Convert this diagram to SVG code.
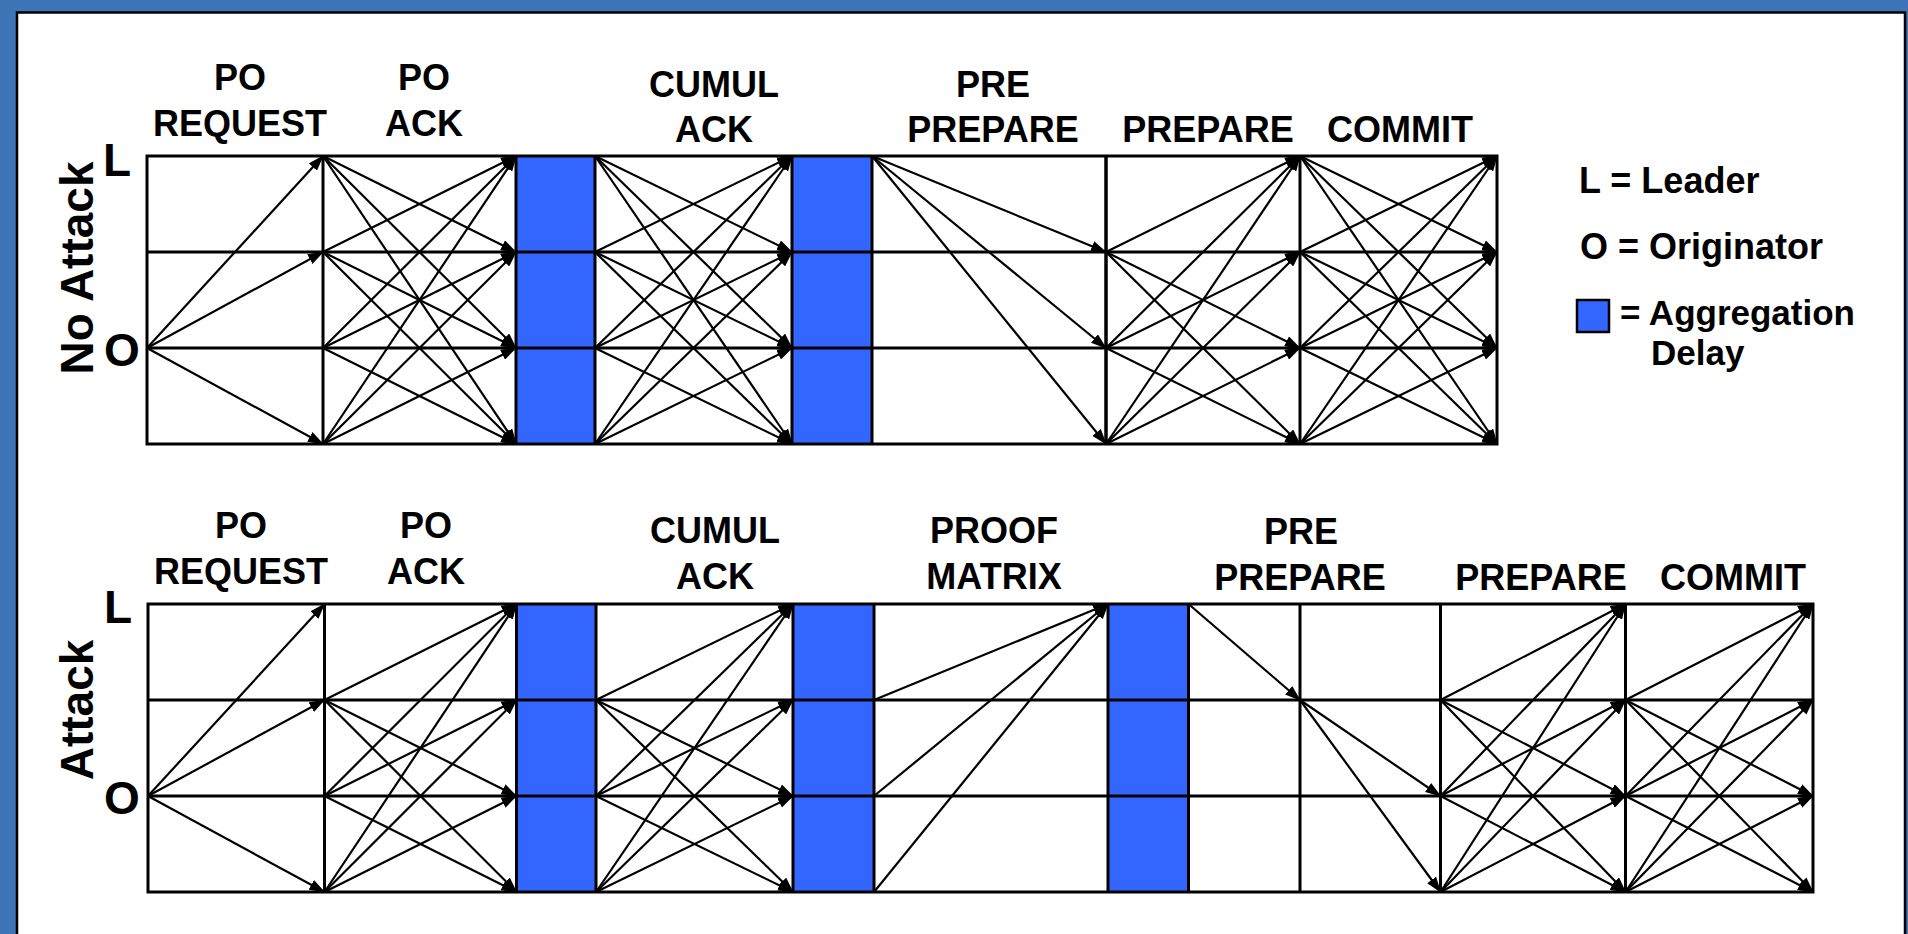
<svg xmlns="http://www.w3.org/2000/svg" width="1908" height="934" viewBox="0 0 1908 934">
<defs>
<style>
.t{font-family:"Liberation Sans",Arial,sans-serif;font-weight:bold;font-size:36px;fill:#000}
.h{text-anchor:middle}
.lg{font-size:35px}
.rl{font-family:"Liberation Sans",Arial,sans-serif;font-weight:bold;font-size:46px;fill:#000}
.g{stroke:#000;stroke-width:3;fill:none}
.bar{fill:#3366FF;stroke:none}
.a line{stroke:#000;stroke-width:2.2;marker-end:url(#ah)}
</style>
<marker id="ah" markerUnits="userSpaceOnUse" markerWidth="16" markerHeight="11" viewBox="0 0 16 11" refX="15" refY="5.5" orient="auto">
<path d="M0,0 L16,5.5 L0,11 z" fill="#000"/>
</marker>
</defs>
<rect x="0" y="0" width="1908" height="934" fill="#3D75B7"/>
<rect x="17" y="12.5" width="1888" height="940" fill="#fff" stroke="#000" stroke-width="2.5"/>

<!-- Top panel: No Attack -->
<g id="top-panel">
<g id="top-bars">
<rect class="bar" x="516" y="156" width="79" height="288"/>
<rect class="bar" x="792" y="156" width="80" height="288"/>
</g>
<g id="top-grid" class="g">
<rect x="147" y="156" width="1350" height="288"/>
<line x1="147" y1="252" x2="1497" y2="252"/>
<line x1="147" y1="348" x2="1497" y2="348"/>
<line x1="323" y1="156" x2="323" y2="444"/>
<line x1="516" y1="156" x2="516" y2="444"/>
<line x1="595" y1="156" x2="595" y2="444"/>
<line x1="792" y1="156" x2="792" y2="444"/>
<line x1="872" y1="156" x2="872" y2="444"/>
<line x1="1106" y1="156" x2="1106" y2="444" stroke-width="3.5"/>
<line x1="1300" y1="156" x2="1300" y2="444"/>
</g>
<g id="top-labels">
<text class="rl" transform="translate(93,268) rotate(-90)" text-anchor="middle">No Attack</text>
<text class="rl" x="103" y="176">L</text>
<text class="rl" x="104" y="366">O</text>
<text class="t h" x="240" y="90">PO</text>
<text class="t h" x="240" y="136">REQUEST</text>
<text class="t h" x="424" y="90">PO</text>
<text class="t h" x="424" y="136">ACK</text>
<text class="t h" x="714" y="97">CUMUL</text>
<text class="t h" x="714" y="142">ACK</text>
<text class="t h" x="993" y="97">PRE</text>
<text class="t h" x="993" y="142">PREPARE</text>
<text class="t h" x="1208" y="142">PREPARE</text>
<text class="t h" x="1400" y="142">COMMIT</text>
</g>
</g>

<!-- Bottom panel: Attack -->
<g id="bottom-panel">
<g id="bottom-bars">
<rect class="bar" x="516.5" y="604" width="79.5" height="288"/>
<rect class="bar" x="793" y="604" width="81" height="288"/>
<rect class="bar" x="1108" y="604" width="80.5" height="288"/>
</g>
<g id="bottom-grid" class="g">
<rect x="148" y="604" width="1665" height="288"/>
<line x1="148" y1="700" x2="1813" y2="700"/>
<line x1="148" y1="796" x2="1813" y2="796"/>
<line x1="324.5" y1="604" x2="324.5" y2="892"/>
<line x1="516.5" y1="604" x2="516.5" y2="892"/>
<line x1="596" y1="604" x2="596" y2="892"/>
<line x1="793" y1="604" x2="793" y2="892"/>
<line x1="874" y1="604" x2="874" y2="892"/>
<line x1="1108" y1="604" x2="1108" y2="892"/>
<line x1="1188.5" y1="604" x2="1188.5" y2="892"/>
<line x1="1300" y1="604" x2="1300" y2="892"/>
<line x1="1440.5" y1="604" x2="1440.5" y2="892"/>
<line x1="1625.5" y1="604" x2="1625.5" y2="892"/>
</g>
<g id="bottom-labels">
<text class="rl" transform="translate(93,710) rotate(-90)" text-anchor="middle">Attack</text>
<text class="rl" x="104" y="623">L</text>
<text class="rl" x="104" y="814">O</text>
<text class="t h" x="241" y="538">PO</text>
<text class="t h" x="241" y="584">REQUEST</text>
<text class="t h" x="426" y="538">PO</text>
<text class="t h" x="426" y="584">ACK</text>
<text class="t h" x="715" y="543">CUMUL</text>
<text class="t h" x="715" y="589">ACK</text>
<text class="t h" x="994" y="543">PROOF</text>
<text class="t h" x="994" y="589">MATRIX</text>
<text class="t h" x="1301" y="544">PRE</text>
<text class="t h" x="1300" y="590">PREPARE</text>
<text class="t h" x="1541" y="590">PREPARE</text>
<text class="t h" x="1733" y="590">COMMIT</text>
</g>
</g>

<!-- Legend -->
<g id="legend">
<text class="t" x="1579" y="193">L = Leader</text>
<text class="t" x="1580" y="259">O = Originator</text>
<rect x="1577" y="300" width="32" height="32" fill="#3366FF" stroke="#000" stroke-width="2.5"/>
<text class="t lg" x="1620" y="325">= Aggregation</text>
<text class="t lg" x="1651" y="365">Delay</text>
</g>

<!-- Connectors -->
<g id="connectors" class="a">
<!-- top: PO REQUEST -->
<line x1="147" y1="348" x2="323" y2="156"/>
<line x1="147" y1="348" x2="323" y2="252"/>
<line x1="147" y1="348" x2="323" y2="444"/>
<!-- top: PO ACK -->
<line x1="323" y1="156" x2="516" y2="252"/>
<line x1="323" y1="156" x2="516" y2="348"/>
<line x1="323" y1="156" x2="516" y2="444"/>
<line x1="323" y1="252" x2="516" y2="156"/>
<line x1="323" y1="252" x2="516" y2="348"/>
<line x1="323" y1="252" x2="516" y2="444"/>
<line x1="323" y1="348" x2="516" y2="156"/>
<line x1="323" y1="348" x2="516" y2="252"/>
<line x1="323" y1="348" x2="516" y2="444"/>
<line x1="323" y1="444" x2="516" y2="156"/>
<line x1="323" y1="444" x2="516" y2="252"/>
<line x1="323" y1="444" x2="516" y2="348"/>
<!-- top: CUMUL ACK -->
<line x1="595" y1="156" x2="792" y2="252"/>
<line x1="595" y1="156" x2="792" y2="348"/>
<line x1="595" y1="156" x2="792" y2="444"/>
<line x1="595" y1="252" x2="792" y2="156"/>
<line x1="595" y1="252" x2="792" y2="348"/>
<line x1="595" y1="252" x2="792" y2="444"/>
<line x1="595" y1="348" x2="792" y2="156"/>
<line x1="595" y1="348" x2="792" y2="252"/>
<line x1="595" y1="348" x2="792" y2="444"/>
<line x1="595" y1="444" x2="792" y2="156"/>
<line x1="595" y1="444" x2="792" y2="252"/>
<line x1="595" y1="444" x2="792" y2="348"/>
<!-- top: PRE PREPARE -->
<line x1="872" y1="156" x2="1106" y2="252"/>
<line x1="872" y1="156" x2="1106" y2="348"/>
<line x1="872" y1="156" x2="1106" y2="444"/>
<!-- top: PREPARE -->
<line x1="1106" y1="252" x2="1300" y2="156"/>
<line x1="1106" y1="252" x2="1300" y2="348"/>
<line x1="1106" y1="252" x2="1300" y2="444"/>
<line x1="1106" y1="348" x2="1300" y2="156"/>
<line x1="1106" y1="348" x2="1300" y2="252"/>
<line x1="1106" y1="348" x2="1300" y2="444"/>
<line x1="1106" y1="444" x2="1300" y2="156"/>
<line x1="1106" y1="444" x2="1300" y2="252"/>
<line x1="1106" y1="444" x2="1300" y2="348"/>
<!-- top: COMMIT -->
<line x1="1300" y1="156" x2="1497" y2="252"/>
<line x1="1300" y1="156" x2="1497" y2="348"/>
<line x1="1300" y1="156" x2="1497" y2="444"/>
<line x1="1300" y1="252" x2="1497" y2="156"/>
<line x1="1300" y1="252" x2="1497" y2="348"/>
<line x1="1300" y1="252" x2="1497" y2="444"/>
<line x1="1300" y1="348" x2="1497" y2="156"/>
<line x1="1300" y1="348" x2="1497" y2="252"/>
<line x1="1300" y1="348" x2="1497" y2="444"/>
<line x1="1300" y1="444" x2="1497" y2="156"/>
<line x1="1300" y1="444" x2="1497" y2="252"/>
<line x1="1300" y1="444" x2="1497" y2="348"/>

<!-- bottom: PO REQUEST -->
<line x1="148" y1="796" x2="324.5" y2="604"/>
<line x1="148" y1="796" x2="324.5" y2="700"/>
<line x1="148" y1="796" x2="324.5" y2="892"/>
<!-- bottom: PO ACK -->
<line x1="324.5" y1="700" x2="516.5" y2="604"/>
<line x1="324.5" y1="700" x2="516.5" y2="796"/>
<line x1="324.5" y1="700" x2="516.5" y2="892"/>
<line x1="324.5" y1="796" x2="516.5" y2="604"/>
<line x1="324.5" y1="796" x2="516.5" y2="700"/>
<line x1="324.5" y1="796" x2="516.5" y2="892"/>
<line x1="324.5" y1="892" x2="516.5" y2="604"/>
<line x1="324.5" y1="892" x2="516.5" y2="700"/>
<line x1="324.5" y1="892" x2="516.5" y2="796"/>
<!-- bottom: CUMUL ACK -->
<line x1="596" y1="700" x2="793" y2="604"/>
<line x1="596" y1="700" x2="793" y2="796"/>
<line x1="596" y1="700" x2="793" y2="892"/>
<line x1="596" y1="796" x2="793" y2="604"/>
<line x1="596" y1="796" x2="793" y2="700"/>
<line x1="596" y1="796" x2="793" y2="892"/>
<line x1="596" y1="892" x2="793" y2="604"/>
<line x1="596" y1="892" x2="793" y2="700"/>
<line x1="596" y1="892" x2="793" y2="796"/>
<!-- bottom: PROOF MATRIX -->
<line x1="874" y1="700" x2="1108" y2="604"/>
<line x1="874" y1="796" x2="1108" y2="604"/>
<line x1="874" y1="892" x2="1108" y2="604"/>
<!-- bottom: PRE PREPARE -->
<line x1="1188.5" y1="604" x2="1300" y2="700"/>
<line x1="1300" y1="700" x2="1440.5" y2="796"/>
<line x1="1300" y1="700" x2="1440.5" y2="892"/>
<!-- bottom: PREPARE -->
<line x1="1440.5" y1="700" x2="1625.5" y2="604"/>
<line x1="1440.5" y1="700" x2="1625.5" y2="796"/>
<line x1="1440.5" y1="700" x2="1625.5" y2="892"/>
<line x1="1440.5" y1="796" x2="1625.5" y2="604"/>
<line x1="1440.5" y1="796" x2="1625.5" y2="700"/>
<line x1="1440.5" y1="796" x2="1625.5" y2="892"/>
<line x1="1440.5" y1="892" x2="1625.5" y2="604"/>
<line x1="1440.5" y1="892" x2="1625.5" y2="700"/>
<line x1="1440.5" y1="892" x2="1625.5" y2="796"/>
<!-- bottom: COMMIT -->
<line x1="1625.5" y1="700" x2="1813" y2="604"/>
<line x1="1625.5" y1="700" x2="1813" y2="796"/>
<line x1="1625.5" y1="700" x2="1813" y2="892"/>
<line x1="1625.5" y1="796" x2="1813" y2="604"/>
<line x1="1625.5" y1="796" x2="1813" y2="700"/>
<line x1="1625.5" y1="796" x2="1813" y2="892"/>
<line x1="1625.5" y1="892" x2="1813" y2="604"/>
<line x1="1625.5" y1="892" x2="1813" y2="700"/>
<line x1="1625.5" y1="892" x2="1813" y2="796"/>
</g>
</svg>
